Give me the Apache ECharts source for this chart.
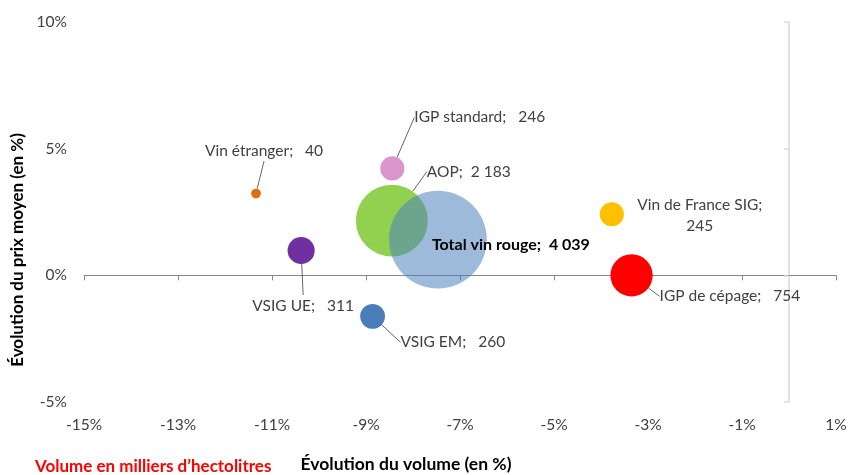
<!DOCTYPE html>
<html>
<head>
<meta charset="utf-8">
<script src="https://cdn.jsdelivr.net/npm/echarts@6/dist/echarts.min.js"></script>
<style>
  html, body { margin: 0; padding: 0; background: #fff; }
  #chart { width: 852px; height: 475px; }
</style>
</head>
<body>
<div id="chart"></div>
<script>
// values (percent change)
const names = ['Vin étranger', 'IGP standard', 'VSIG UE', 'VSIG EM', 'Vin de France SIG', 'IGP de cépage', 'AOP', 'Total vin rouge'];
const volumeChange = [-11.34, -8.44, -10.38, -8.86, -3.77, -3.35, -8.45, -7.47];
const priceChange = [3.23, 4.22, 0.98, -1.62, 2.41, 0.0, 2.16, 1.41];
const volumes = [40, 246, 311, 260, 245, 754, 2183, 4039]; // milliers d'hl

const colors = ['#E46C0A', '#D995CC', '#7030A0', '#4A7EBB', '#FFC000', '#FF0000', '#92D050', 'rgba(79,129,189,0.55)'];
const wrapped = ['Vin de France SIG'];

// where each data label sits, relative to its bubble centre (px)
// line: leader line bends, relative to the label anchor
const labelPlace = [
    { dx: 8, dy: -43, align: 'center', line: [[-1, 11], [-1, 11]] },
    { dx: 22, dy: -51, align: 'left', line: [[-9, -1], [-4, -1]] },
    { dx: 2, dy: 55, align: 'center', line: [[-1, -14], [-1, -14]] },
    { dx: 28, dy: 26, align: 'left', line: [[-8, -3], [-3, -3]] },
    { dx: 88, dy: 1, align: 'center' },
    { dx: 28, dy: 21, align: 'left', line: [[-12, -3], [-6, -3]] },
    { dx: 35, dy: -49, align: 'left', line: [[-9, 0], [-4, 0]] },
    { dx: -6, dy: 5, align: 'left' }
];

const fmt = v => String(v).replace(/\B(?=(\d{3})+(?!\d))/g, ' ');

const myChart = echarts.init(document.getElementById('chart'));

const data = names.map((n, i) => {
    const sep = wrapped.includes(n) ? '\n' : (volumes[i] >= 1000 ? '  ' : '   ');
    const isTotal = n === 'Total vin rouge';
    return {
        name: n,
        value: [volumeChange[i], priceChange[i], volumes[i]],
        itemStyle: { color: colors[i] },
        label: {
            formatter: n + ';' + sep + fmt(volumes[i]),
            fontWeight: isTotal ? 'bold' : 'normal',
            fontSize: isTotal ? 16 : 15.5,
            color: isTotal ? '#000' : '#404040'
        },
        labelLine: { show: !!labelPlace[i].line }
    };
});

const option = {
    animation: false,
    textStyle: { fontFamily: 'Lato' },
    grid: { left: 84, right: 16, top: 22, bottom: 73, containLabel: false, outerBoundsMode: 'none' },
    xAxis: [
        {
            type: 'value', position: 'bottom', min: -15, max: 1, interval: 2,
            axisLine: { show: false, onZero: false },
            axisTick: { show: false },
            splitLine: { show: false },
            axisLabel: { formatter: '{value}%', color: '#404040', fontSize: 15.5, margin: 15, fontFamily: 'Lato' },
            name: 'Évolution du volume (en %)',
            nameLocation: 'middle',
            nameGap: 53,
            nameTextStyle: { fontWeight: 'bold', fontSize: 17.5, color: '#000', padding: [0, 108, 0, 0], fontFamily: 'Lato' }
        },
        {
            type: 'value', position: 'bottom', min: -15, max: 1, interval: 2,
            axisLine: { show: true, onZero: true, lineStyle: { color: '#868686', width: 1 } },
            axisTick: { show: true, length: 5, lineStyle: { color: '#868686' } },
            splitLine: { show: false },
            axisLabel: { show: false }
        }
    ],
    yAxis: [
        {
            type: 'value', position: 'left', min: -5, max: 10, interval: 5,
            axisLine: { show: false, onZero: false },
            axisTick: { show: false },
            splitLine: { show: false },
            axisLabel: { formatter: '{value}%', color: '#404040', fontSize: 15.5, margin: 17, fontFamily: 'Lato' },
            name: 'Évolution du prix moyen (en %)',
            nameLocation: 'middle',
            nameGap: 56,
            nameTextStyle: { fontWeight: 'bold', fontSize: 17, color: '#000', padding: [0, 76, 0, 0], fontFamily: 'Lato' }
        },
        {
            type: 'value', position: 'left', min: -5, max: 10, interval: 5,
            axisLine: { show: true, onZero: true, lineStyle: { color: '#D9D9D9', width: 1.5 } },
            axisTick: { show: true, length: 5, lineStyle: { color: '#D9D9D9', width: 1.5 } },
            splitLine: { show: false },
            axisLabel: { show: false }
        }
    ],
    graphic: [
        {
            type: 'text', left: 35, top: 458,
            style: { text: 'Volume en milliers d\u2019hectolitres', fill: '#FF0000', font: 'bold 17px Lato' }
        }
    ],
    series: [
        {
            type: 'scatter',
            xAxisIndex: 0,
            yAxisIndex: 0,
            data: data,
            symbol: 'circle',
            symbolSize: v => 1.54 * Math.sqrt(v[2]),
            itemStyle: { opacity: 1 },
            label: { show: true, position: 'inside', fontSize: 15.5, fontFamily: 'Lato', lineHeight: 21, align: 'center' },
            labelLine: { lineStyle: { color: '#404040', width: 0.8 } },
            labelLayout: p => {
                const l = labelPlace[p.dataIndex];
                const cx = p.rect.x + p.rect.width / 2;
                const cy = p.rect.y + p.rect.height / 2;
                const x = cx + l.dx, y = cy + l.dy;
                const res = { x: x, y: y, align: l.align, verticalAlign: 'middle' };
                if (l.line) {
                    res.labelLinePoints = [[cx, cy]].concat(l.line.map(o => [x + o[0], y + o[1]]));
                }
                return res;
            },
            emphasis: { disabled: true }
        }
    ]
};

myChart.setOption(option);
</script>
</body>
</html>
